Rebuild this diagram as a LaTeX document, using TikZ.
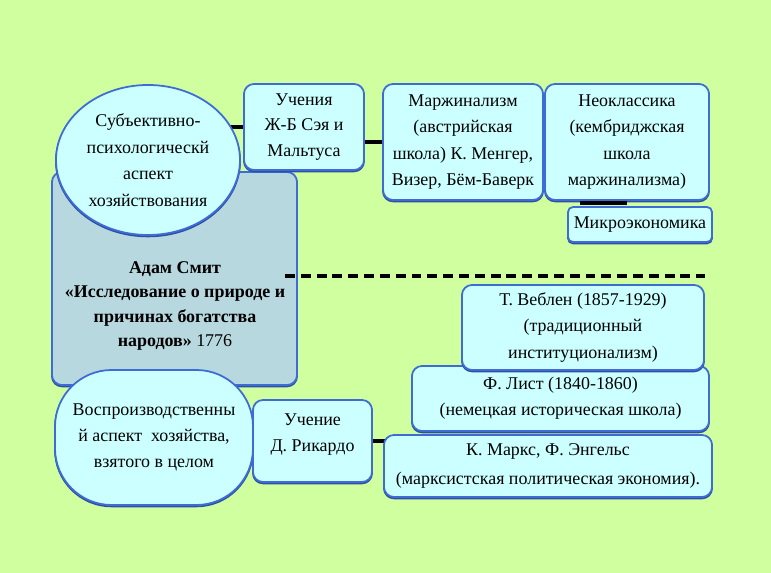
\documentclass[tikz,border=0pt]{standalone}
\usepackage{fontspec}
\setmainfont{Liberation Serif}
\usetikzlibrary{shapes.geometric,calc}
\definecolor{bgc}{HTML}{CFFF9F}
\definecolor{boxc}{HTML}{CCFFFF}
\definecolor{smithc}{HTML}{B8D8DF}
\definecolor{edgec}{HTML}{3E6BD6}
\pgfdeclarelayer{bg}
\pgfsetlayers{bg,main}
\begin{document}
\begin{tikzpicture}[x=0.03cm,y=-0.03cm,
  txt/.style={align=center, text=black, inner sep=1pt},
  fs/.style={font=\fontsize{15.3}{#1}\selectfont},
  box/.style={txt, draw=edgec, line width=1.5pt, fill=boxc, rounded corners=0.3cm,
    preaction={draw=edgec!75!black, line width=1.5pt, transform canvas={yshift=-1.2pt}}},
  conn/.style={line width=3.4pt, black},
  dline/.style={line width=2.6pt, black, dash pattern=on 8.5pt off 5pt}]
\begin{pgfonlayer}{bg}
\fill[bgc] (0,0) rectangle (771,573);
\end{pgfonlayer}
\useasboundingbox (0,0) rectangle (771,573);

% Smith box
\node[box, fill=smithc, minimum width=7.35cm, minimum height=6.39cm] (smith) at (174.5,278.5) {};
\node[txt, font=\fontsize{15.3}{20.7}\selectfont\bfseries] (smithtxt) at (175,306)
  {Адам Смит\\«Исследование о природе и\\причинах богатства\\народов» {\mdseries 1776}};
\draw[dline] (285,276) coordinate (dashL) -- (705,276) coordinate (dashR);

% ellipses
\node[box, shape=ellipse, rounded corners=0pt, minimum width=5.52cm, minimum height=4.5cm, fs=22.7pt] (ell1) at (148,160)
  {Субъективно-\\психологическй\\аспект\\хозяйствования};
\node[box, rounded corners=1.7cm, minimum width=5.94cm, minimum height=4.05cm, fs=22pt] (ell2) at (154,437.5)
  {Воспроизводственны\\й аспект\ \ хозяйства,\\взятого в целом};

% top row
\node[box, minimum width=3.6cm, minimum height=2.58cm, fs=21.7pt] (uch) at (304,127)
  {Учения\\Ж-Б Сэя и\\Мальтуса};
\node[box, minimum width=4.8cm, minimum height=3.48cm, fs=22.7pt] (marg) at (463,142)
  {Маржинализм\\(австрийская\\школа) К. Менгер,\\Визер, Бём-Баверк};
\node[box, minimum width=4.92cm, minimum height=3.48cm, fs=22.7pt] (neo) at (627,142)
  {Неоклассика\\(кембриджская\\школа\\маржинализма)};
\node[box, rounded corners=0.15cm, minimum width=4.32cm, minimum height=1.05cm, fs=20pt] (micro) at (640,224.5)
  {Микроэкономика};
\draw[conn] (580,203) coordinate (mA) -- (627,203) coordinate (mB);

% bottom right
\node[box, minimum width=8.91cm, minimum height=1.95cm, fs=22pt] (list) at (560.5,398.5)
  {Ф. Лист (1840-1860)\\(немецкая историческая школа)};
\node[box, minimum width=7.26cm, minimum height=2.55cm, fs=23pt] (vebl) at (583,327.5)
  {Т. Веблен (1857-1929)\\(традиционный\\институционализм)};
\node[box, minimum width=9.84cm, minimum height=1.86cm, fs=25.5pt] (marx) at (548,466)
  {К. Маркс, Ф. Энгельс\\(марксистская политическая экономия).};
\node[box, minimum width=3.57cm, minimum height=2.46cm, fs=22pt, text depth=14pt] (ric) at (312.5,441)
  {Учение\\Д. Рикардо};

\begin{pgfonlayer}{bg}
\draw[conn] (uch.west) -- (uch.west -| ell1.center);
\draw[conn] (marg.west) -- (marg.west -| uch.center);
\draw[conn] (ric.east) -- (ric.east -| marx.center);
\end{pgfonlayer}
\end{tikzpicture}
\end{document}
